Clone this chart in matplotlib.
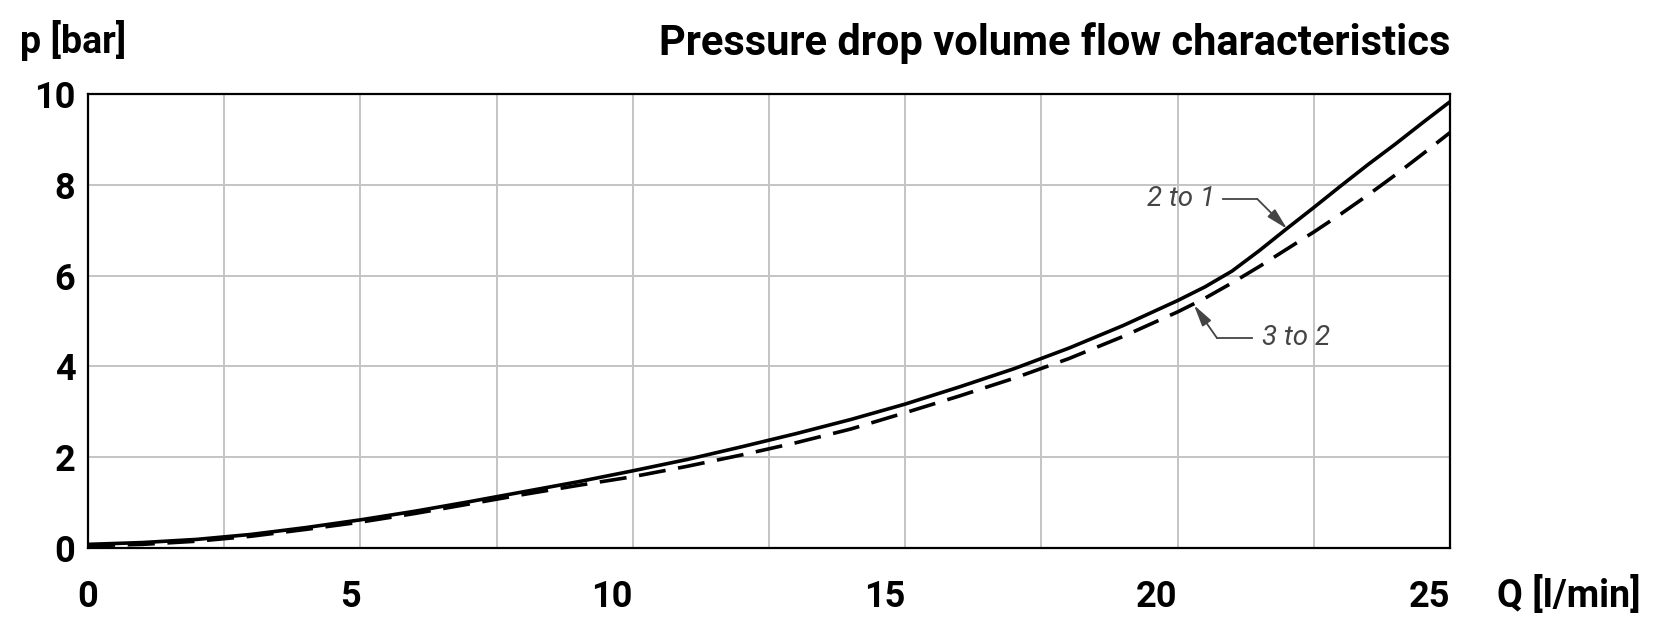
import matplotlib
matplotlib.use("Agg")
import matplotlib.pyplot as plt

FONT = ['Roboto', 'DejaVu Sans']
plt.rcParams['font.family'] = FONT

# ---- data ----
q_21 = [0, 1, 2, 3, 4, 5, 6, 7, 8, 9, 10, 11, 12, 13, 14, 15, 16, 17, 18, 19, 20,
        20.5, 21, 21.5, 22, 22.5, 23, 23.5, 24, 24.5, 25]
p_21 = [0.08, 0.12, 0.19, 0.30, 0.45, 0.62, 0.81, 1.02, 1.24, 1.46, 1.70, 1.95, 2.23, 2.52, 2.83,
        3.17, 3.55, 3.95, 4.40, 4.90, 5.45, 5.75, 6.10, 6.55, 7.03, 7.50, 7.98, 8.45, 8.90, 9.37, 9.83]

q_32 = [0, 1, 2, 3, 4, 5, 6, 7, 8, 9, 10, 11, 12, 13, 14, 15, 16, 17, 18, 19, 20,
        20.5, 21, 21.5, 22, 22.5, 23, 23.5, 24, 24.5, 25]
p_32 = [0.05, 0.08, 0.15, 0.26, 0.41, 0.57, 0.76, 0.97, 1.18, 1.38, 1.57, 1.80, 2.05, 2.32, 2.62,
        2.98, 3.35, 3.74, 4.17, 4.66, 5.20, 5.50, 5.84, 6.20, 6.58, 6.96, 7.36, 7.78, 8.22, 8.68, 9.15]

x_ticks = [0, 5, 10, 15, 20, 25]
x_grid = [2.5, 5, 7.5, 10, 12.5, 15, 17.5, 20, 22.5]
y_ticks = [0, 2, 4, 6, 8, 10]

title = "Pressure drop volume flow characteristics"
ylabel = "p [bar]"
xlabel = "Q [l/min]"
label_21 = "2 to 1"
label_32 = "3 to 2"

# annotation geometry (data coords)
ann21_text = (20.69, 7.69)
ann21_elbow = (21.46, 7.69)
ann21_start = (20.83, 7.69)
ann21_tip = (22.01, 7.03)
ann32_text = (21.55, 4.63)
ann32_start = (21.37, 4.63)
ann32_elbow = (20.72, 4.63)
ann32_tip = (20.30, 5.35)

W, H = 1662, 617
fig = plt.figure(figsize=(W / 100, H / 100), dpi=100)
ax = fig.add_axes([88 / W, (H - 548) / H, (1450 - 88) / W, (548 - 94) / H])

ax.set_xlim(0, 25)
ax.set_ylim(0, 10)

for xv in x_grid:
    ax.axvline(xv, color='#c4c4c4', lw=1.4, zorder=1)
for yv in y_ticks[1:-1]:
    ax.axhline(yv, color='#c4c4c4', lw=1.4, zorder=1)

ax.plot(q_21, p_21, color='black', lw=2.6, solid_capstyle='butt', solid_joinstyle='round', zorder=3)
ax.plot(q_32, p_32, color='black', lw=2.6, dashes=(7.5, 3.5), dash_capstyle='butt', zorder=3)

ann_col = '#444444'
arrow_style = '-|>,head_length=1.3,head_width=0.32'
# 2 to 1
ax.plot([ann21_start[0], ann21_elbow[0]], [ann21_start[1], ann21_elbow[1]], color=ann_col, lw=1.3, zorder=4)
ax.annotate('', xy=ann21_tip, xytext=ann21_elbow,
            arrowprops=dict(arrowstyle=arrow_style, color=ann_col, lw=1.3,
                            shrinkA=0, shrinkB=0), zorder=4)
ax.text(ann21_text[0], ann21_text[1], label_21, ha='right', va='center', fontsize=20,
        style='italic', color=ann_col, zorder=5)
# 3 to 2
ax.plot([ann32_start[0], ann32_elbow[0]], [ann32_start[1], ann32_elbow[1]], color=ann_col, lw=1.3, zorder=4)
ax.annotate('', xy=ann32_tip, xytext=ann32_elbow,
            arrowprops=dict(arrowstyle=arrow_style, color=ann_col, lw=1.3,
                            shrinkA=0, shrinkB=0), zorder=4)
ax.text(ann32_text[0], ann32_text[1], label_32, ha='left', va='center', fontsize=20,
        style='italic', color=ann_col, zorder=5)

for s in ax.spines.values():
    s.set_color('black')
    s.set_linewidth(1.6)
    s.set_zorder(6)

ax.set_xticks(x_ticks)
ax.set_xticklabels([str(v) for v in x_ticks])
ax.set_yticks(y_ticks)
ax.set_yticklabels([str(v) for v in y_ticks])
ax.tick_params(axis='both', length=0)
ax.tick_params(axis='x', pad=22, labelsize=26)
ax.tick_params(axis='y', pad=9, labelsize=26)
for lab in ax.get_xticklabels():
    lab.set_fontweight('bold')
    lab.set_horizontalalignment('right')
ax.get_xticklabels()[0].set_horizontalalignment('center')
for lab in ax.get_yticklabels():
    lab.set_fontweight('bold')

fig.text(1450 / W, (H - 55) / H, title, ha='right', va='baseline', fontsize=30, fontweight='bold')
fig.text(20 / W, (H - 53) / H, ylabel, ha='left', va='baseline', fontsize=27, fontweight='bold')
fig.text(1497 / W, (H - 607) / H, xlabel, ha='left', va='baseline', fontsize=27, fontweight='bold')

fig.savefig('out.png', dpi=100, facecolor='white')
